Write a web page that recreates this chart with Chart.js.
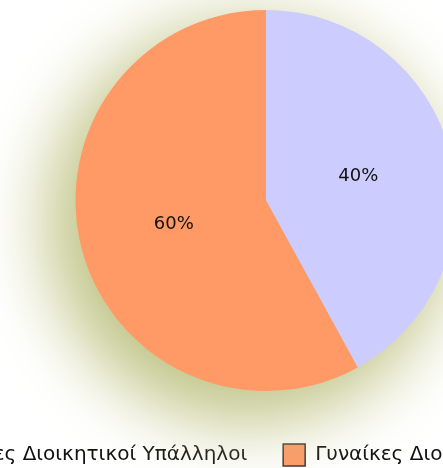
<!DOCTYPE html>
<html>
<head>
<meta charset="utf-8">
<script src="https://cdn.jsdelivr.net/npm/chart.js@4"></script>
<style>
  html, body { margin: 0; padding: 0; background: #fff; overflow: hidden; }
  #wrap { position: absolute; left: -134px; top: 0; width: 800px; height: 476px; }
</style>
</head>
<body>
<div id="wrap"><canvas id="pie"></canvas></div>
<script>
const categories = ['Άνδρες Διοικητικοί Υπάλληλοι', 'Γυναίκες Διοικητικοί Υπάλληλοι'];
const shares = [42, 58];
const shareLabels = ['40%', '60%'];
const sliceColors = ['#ccccff', '#ff9966'];

// soft olive glow under the pie (the shape is drawn off-canvas, only its shadow lands)
const glow = {
    id: 'glow',
    beforeDatasetsDraw(chart) {
        const arc = chart.getDatasetMeta(0).data[0];
        if (!arc) return;
        const ctx = chart.ctx;
        const away = 5000;
        ctx.save();
        ctx.shadowColor = 'rgba(192,196,134,1)';
        ctx.shadowBlur = 70;
        ctx.shadowOffsetX = -away - 18;
        ctx.shadowOffsetY = 22;
        ctx.fillStyle = '#000';
        ctx.beginPath();
        ctx.arc(arc.x + away, arc.y, arc.outerRadius + 10, 0, Math.PI * 2);
        ctx.fill();
        ctx.restore();
    }
};

const sliceText = {
    id: 'sliceText',
    afterDatasetsDraw(chart) {
        const ctx = chart.ctx;
        ctx.save();
        ctx.font = '18px "DejaVu Sans"';
        ctx.fillStyle = '#111';
        ctx.textAlign = 'center';
        ctx.textBaseline = 'middle';
        chart.getDatasetMeta(0).data.forEach((arc, i) => {
            const p = arc.tooltipPosition();
            ctx.fillText(shareLabels[i], p.x, p.y);
        });
        ctx.restore();
    }
};

// nudge the legend a little to the right, like the original
const legendShift = {
    id: 'legendShift',
    afterLayout(chart) {
        chart.legend.left += 7;
        chart.legend.right += 7;
    }
};

new Chart(document.getElementById('pie'), {
    type: 'pie',
    data: {
        labels: categories,
        datasets: [{
            data: shares,
            backgroundColor: sliceColors,
            borderWidth: 0
        }]
    },
    options: {
        responsive: true,
        maintainAspectRatio: false,
        animation: false,
        layout: { padding: { top: 10 } },
        plugins: {
            tooltip: { enabled: false },
            legend: {
                position: 'bottom',
                title: { display: true, text: ' ', font: { size: 10 }, padding: { top: 5, bottom: 0 } },
                labels: {
                    boxWidth: 22,
                    boxHeight: 22,
                    padding: 36,
                    color: '#111',
                    font: { family: 'DejaVu Sans', size: 20 },
                    generateLabels: chart => categories.map((t, i) => ({
                        text: t,
                        fillStyle: sliceColors[i],
                        strokeStyle: '#333',
                        lineWidth: 1.5,
                        fontColor: '#111',
                        hidden: false,
                        index: i
                    }))
                }
            }
        }
    },
    plugins: [glow, sliceText, legendShift]
});
</script>
</body>
</html>
